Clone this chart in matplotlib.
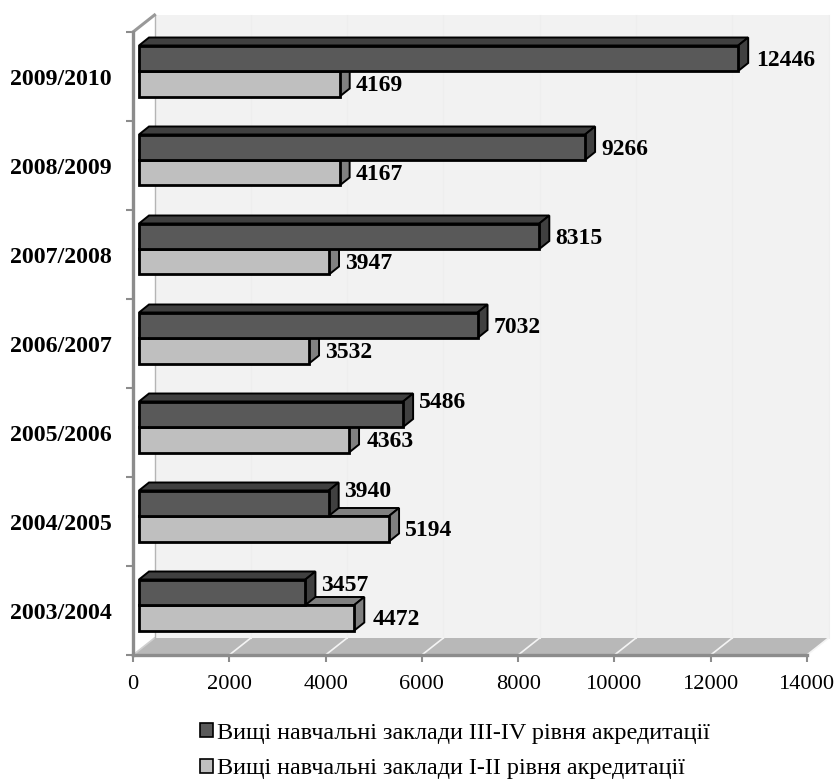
import matplotlib
matplotlib.use('Agg')
import matplotlib.pyplot as plt
from matplotlib.patches import Polygon, Patch

years = ['2003/2004', '2004/2005', '2005/2006', '2006/2007', '2007/2008', '2008/2009', '2009/2010']
level_3_4 = [3457, 3940, 5486, 7032, 8315, 9266, 12446]
level_1_2 = [4472, 5194, 4363, 3532, 3947, 4167, 4169]
series_names = ['Вищі навчальні заклади III-IV рівня акредитації',
                'Вищі навчальні заклади I-II рівня акредитації']
xticks = [0, 2000, 4000, 6000, 8000, 10000, 12000, 14000]

W, H = 840, 782
L, R, T, B = 133, 807, 32, 655
xmax = 14000
ux = xmax / (R - L)      # data units per pixel
uy = len(years) / (B - T)

plt.rcParams['font.family'] = 'Liberation Serif'
fig = plt.figure(figsize=(W / 100, H / 100), dpi=100)
ax = fig.add_axes([L / W, 1 - B / H, (R - L) / W, (B - T) / H])
ax.set_xlim(0, xmax)
ax.set_ylim(0, len(years))
ax.patch.set_visible(False)

# back wall and floor, 3d offset
wall_dx = 21.5 * ux
wall_dy = 17 * uy


def poly(pts, fc, ec='none', lw=0, z=1):
    ax.add_patch(Polygon(pts, closed=True, facecolor=fc, edgecolor=ec, linewidth=lw,
                         zorder=z, clip_on=False, joinstyle='miter'))


top = len(years)
poly([(wall_dx, wall_dy), (xmax + wall_dx, wall_dy), (xmax + wall_dx, top + wall_dy), (wall_dx, top + wall_dy)],
     '#f2f2f2', z=1)
poly([(0, 0), (xmax, 0), (xmax + wall_dx, wall_dy), (wall_dx, wall_dy)], '#b8b8b8', z=1)
for v in xticks:
    if v > 0:
        ax.plot([v + wall_dx, v + wall_dx], [wall_dy, top + wall_dy], color='#eeeeee', lw=0.8, zorder=2, clip_on=False)
    ax.plot([v, v + wall_dx], [0, wall_dy], color='#f4f4f4' if v > 0 else '#d0d0d0', lw=1.2, zorder=2, clip_on=False)
ax.plot([wall_dx, wall_dx], [wall_dy, top + wall_dy], color='#b5b5b5', lw=1, zorder=2, clip_on=False)
ax.plot([0, wall_dx], [top, top + wall_dy], color='#999999', lw=2.2, zorder=2, clip_on=False)

# bars
bar_h = 25.5 * uy
x_off = 6 * ux
y_off = 5.5 * uy
depth_x = 10 * ux
depth_y = 8 * uy


def bar3d(y0, value, face, dark):
    x0 = x_off
    x1 = x_off + value
    y1 = y0 + bar_h
    poly([(x0, y1), (x1, y1), (x1 + depth_x, y1 + depth_y), (x0 + depth_x, y1 + depth_y)], dark, 'black', 1.4, 4)
    poly([(x1, y0), (x1 + depth_x, y0 + depth_y), (x1 + depth_x, y1 + depth_y), (x1, y1)], dark, 'black', 1.4, 4)
    poly([(x0, y0), (x1, y0), (x1, y1), (x0, y1)], face, 'black', 2.0, 4)


label_shift_dark = [-7, -12, -12, 2, 2, 2, 2]
label_x_dark = [16, 15, 16, 16, 16, 16, 18]
label_x_light = [18, 16, 18, 16, 16, 16, 16]

for i in range(len(years)):
    yc = i + 0.5 + y_off
    bar3d(yc - bar_h, level_1_2[i], '#bfbfbf', '#808080')
    bar3d(yc, level_3_4[i], '#595959', '#404040')
    ax.text(x_off + level_3_4[i] + label_x_dark[i] * ux, yc + bar_h / 2 - label_shift_dark[i] * uy,
            str(level_3_4[i]), fontsize=17, fontweight='bold', va='center', ha='left', zorder=6)
    ax.text(x_off + level_1_2[i] + label_x_light[i] * ux, yc - bar_h / 2 - 2 * uy,
            str(level_1_2[i]), fontsize=17, fontweight='bold', va='center', ha='left', zorder=6)

# axes
for side in ['top', 'right']:
    ax.spines[side].set_visible(False)
for side in ['left', 'bottom']:
    ax.spines[side].set_color('#8c8c8c')
    ax.spines[side].set_linewidth(2.4)
    ax.spines[side].set_zorder(3)
ax.set_xticks(xticks)
ax.set_xticklabels([str(v) for v in xticks], fontsize=16.1)
ax.set_yticks(range(len(years) + 1))
ax.set_yticklabels([])
ax.tick_params(axis='both', color='#8c8c8c', width=1.5, length=5)
ax.tick_params(axis='x', pad=9.5)
for i, year in enumerate(years):
    ax.text(-21 * ux, i + 0.5 - 3 * uy, year, fontsize=17.2, fontweight='bold', ha='right', va='center')

handles = [Patch(facecolor='#595959', edgecolor='black', linewidth=1.2),
           Patch(facecolor='#bfbfbf', edgecolor='black', linewidth=1.2)]
fig.legend(handles, series_names, loc='center left', bbox_to_anchor=(200 / W, 1 - 751 / H),
           frameon=False, fontsize=17.4, handlelength=0.54, handleheight=0.54, handletextpad=0.17,
           labelspacing=0.62, borderpad=0, borderaxespad=0)

fig.savefig('out.png', dpi=100)
